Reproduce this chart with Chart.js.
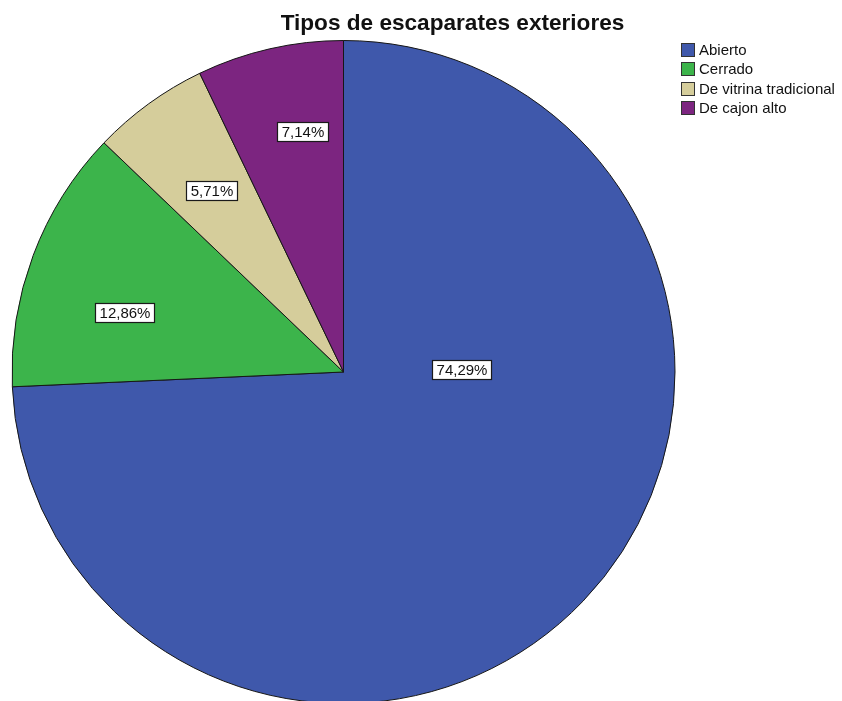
<!DOCTYPE html>
<html>
<head>
<meta charset="utf-8">
<script src="https://cdn.jsdelivr.net/npm/chart.js@4"></script>
<style>
  html, body { margin: 0; padding: 0; background: #ffffff; overflow: hidden; }
  #wrap { position: relative; width: 842px; height: 720px; }
  canvas { display: block; }
</style>
</head>
<body>
<div id="wrap"><canvas id="c" width="842" height="720" style="width:842px;height:720px"></canvas></div>
<script>
const chartTitle = 'Tipos de escaparates exteriores';
const categories = ['Abierto', 'Cerrado', 'De vitrina tradicional', 'De cajon alto'];
const percentages = [74.29, 12.86, 5.71, 7.14];
const sliceColors = ['#3f58ab', '#3cb44b', '#d5cd9b', '#7c2580'];

// label placement inside each slice: t = fraction along slice angle, r = fraction of radius
const labelPlacement = [
  { t: 0.333, r: 0.357 },
  { t: 0.38, r: 0.683 },
  { t: 0.5, r: 0.676 },
  { t: 0.63, r: 0.734 }
];

const FONT = '"Liberation Sans", Arial, sans-serif';

function fmtPct(v) {
  return v.toFixed(2).replace('.', ',') + '%';
}

const decorPlugin = {
  id: 'decor',
  afterDatasetsDraw(chart) {
    const ctx = chart.ctx;
    const meta = chart.getDatasetMeta(0);
    ctx.save();
    ctx.font = '15px ' + FONT;
    ctx.textAlign = 'center';
    ctx.textBaseline = 'middle';
    meta.data.forEach((arc, i) => {
      const p = arc.getProps(['x', 'y', 'startAngle', 'endAngle', 'outerRadius'], true);
      const pl = labelPlacement[i];
      const a = p.startAngle + (p.endAngle - p.startAngle) * pl.t;
      const r = p.outerRadius * pl.r;
      const cx = p.x + Math.cos(a) * r;
      const cy = p.y + Math.sin(a) * r;
      const text = fmtPct(percentages[i]);
      const w = Math.round(ctx.measureText(text).width + 9);
      const h = 20;
      const bx = Math.round(cx - w / 2), by = Math.round(cy - h / 2);
      ctx.fillStyle = '#ffffff';
      ctx.fillRect(bx, by, w, h);
      ctx.strokeStyle = '#1a1a1a';
      ctx.lineWidth = 1.2;
      ctx.strokeRect(bx + 0.5, by + 0.5, w - 1, h - 1);
      ctx.fillStyle = '#111111';
      ctx.fillText(text, bx + w / 2, by + h / 2 + 1);
    });
    ctx.restore();
  },
  afterDraw(chart) {
    const ctx = chart.ctx;
    ctx.save();
    // title
    ctx.font = 'bold 22.6px ' + FONT;
    ctx.fillStyle = '#111111';
    ctx.textAlign = 'center';
    ctx.textBaseline = 'alphabetic';
    ctx.fillText(chartTitle, 452.5, 30);
    // legend
    ctx.font = '15px ' + FONT;
    ctx.textAlign = 'left';
    ctx.textBaseline = 'middle';
    categories.forEach((lab, i) => {
      const y = 50 + i * 19.3;
      ctx.fillStyle = sliceColors[i];
      ctx.fillRect(681, Math.round(y - 7), 14, 14);
      ctx.strokeStyle = '#333333';
      ctx.lineWidth = 1;
      ctx.strokeRect(681.5, Math.round(y - 7) + 0.5, 13, 13);
      ctx.fillStyle = '#111111';
      ctx.fillText(lab, 699, y + 1);
    });
    ctx.restore();
  }
};

new Chart(document.getElementById('c'), {
  type: 'pie',
  data: {
    labels: categories,
    datasets: [{
      data: percentages,
      backgroundColor: sliceColors,
      borderColor: '#161616',
      borderWidth: 1,
      hoverOffset: 0,
      offset: 0
    }]
  },
  options: {
    responsive: false,
    animation: false,
    events: [],
    layout: { padding: { left: 11.5, right: 166.5, top: 40, bottom: 16 } },
    plugins: {
      legend: { display: false },
      title: { display: false },
      tooltip: { enabled: false }
    }
  },
  plugins: [decorPlugin]
});
</script>
</body>
</html>
